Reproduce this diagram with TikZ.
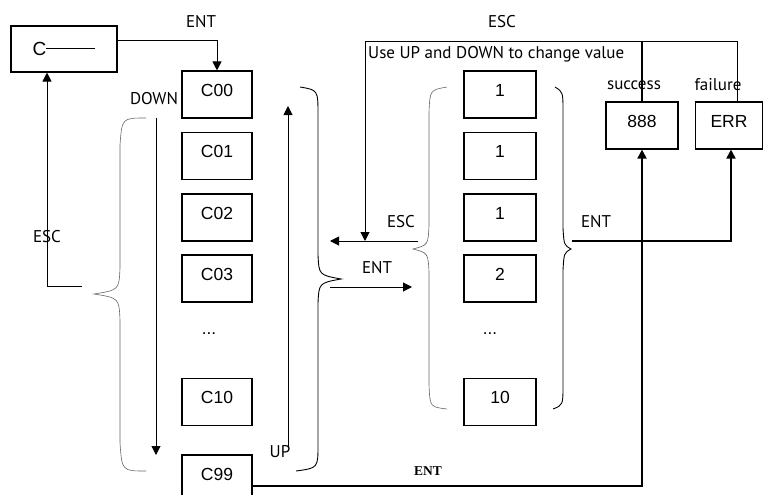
\documentclass[tikz,border=0pt]{standalone}
\usepackage{fontspec}
\setmainfont{Liberation Sans}
\newfontfamily\lblfont{PT Sans}
\newfontfamily\serfont{Liberation Serif}
\usetikzlibrary{arrows.meta}
\tikzset{
  box/.style={draw, line width=1.1pt, inner sep=0pt, minimum width=70pt, minimum height=47pt,
    font=\fontsize{17.5}{20}\selectfont, text height=12pt, text depth=9pt},
  vbox/.style={box, minimum width=72pt},
  lbl/.style={inner sep=0pt, font=\lblfont\fontsize{17}{20}\selectfont},
  dots/.style={inner sep=0pt, anchor=base, font=\fontsize{17}{20}\selectfont},
  ln/.style={line width=1pt},
  thk/.style={line width=1.8pt},
  arr/.style={-{Triangle[length=9pt,width=9pt]}},
  bracel/.style={draw=black!60, line width=0.6pt},
  bracer/.style={draw=black, line width=0.9pt}
}
\begin{document}
\begin{tikzpicture}[x=1pt,y=-1pt]
\useasboundingbox (0,0) rectangle (763,495);
% top-left box
\node[box, minimum width=106pt, minimum height=46pt, text height=12.2pt, text depth=0pt, font=\fontsize{19}{22}\selectfont] (cbox) at (64,49) {C\rule[6.5pt]{49pt}{1pt}};
% left column
\node[box] (c00) at (217,94.5) {C00};
\node[box] (c01) at (217,156) {C01};
\node[box] (c02) at (217,217.5) {C02};
\node[box] (c03) at (217,278.5) {C03};
\node[dots] (ldots) at (209,334) {...};
\node[box] (c10) at (217,402) {C10};
\node[box] (c99) at (217,478.5) {C99};
% value column
\node[vbox] (v1) at (500,94.5) {1};
\node[vbox] (v2) at (500,156) {1};
\node[vbox] (v3) at (500,217.5) {1};
\node[vbox] (v4) at (500,278.5) {2};
\node[dots] (rdots) at (490,334) {...};
\node[vbox] (v10) at (500,402) {10};
% result boxes
\node[vbox] (s888) at (642,125.5) {888};
\node[box, minimum width=67pt] (err) at (729,125.5) {ERR};
% labels
\node[lbl] (lentT) at (201,22) {ENT};
\node[lbl] (lescT) at (502,22) {ESC};
\node[lbl, anchor=west] (luse) at (368,54) {Use UP and DOWN to change value};
\node[lbl] (lsucc) at (634,85) {success};
\node[lbl] (lfail) at (718,85) {failure};
\node[lbl] (ldown) at (154,99) {DOWN};
\node[lbl] (lescL) at (47,237) {ESC};
\node[lbl] (lescM) at (401,222) {ESC};
\node[lbl] (lentM) at (377,268) {ENT};
\node[lbl] (lentR) at (596,222) {ENT};
\node[lbl] (lup) at (280,452) {UP};
\node[inner sep=0pt, font=\serfont\bfseries\fontsize{13.5}{15}\selectfont] (lentB) at (428,471) {ENT};
% coordinates
\coordinate (escL) at (82,286);
\coordinate (downS) at (156,118);
\coordinate (downE) at (156,455);
\coordinate (upS) at (288,447);
\coordinate (upE) at (288,106);
\coordinate (escTL) at (365,42);
\coordinate (escTE) at (365,241);
\coordinate (escMS) at (418,241);
\coordinate (escME) at (330,241);
\coordinate (entMS) at (330,287);
\coordinate (entME) at (412,287);
\coordinate (entRS) at (572,241);
% braces
\draw[bracel] (146,118) .. controls (122,118) .. (120,145) -- (120,268) .. controls (119,290) .. (94,294) .. controls (119,298) .. (120,320) -- (120,443) .. controls (122,471) .. (146,471);
\draw[bracer] (300,87) .. controls (318,90) .. (318,115) -- (318,255) .. controls (319,275) .. (341,279) .. controls (319,283) .. (318,303) -- (318,445) .. controls (318,468) .. (296,471);
\draw[bracel] (447,87) .. controls (430,90) .. (429,112) -- (429,226) .. controls (428,245) .. (413,249) .. controls (428,253) .. (429,272) -- (429,385) .. controls (430,407) .. (447,409);
\draw[bracer] (555,87) .. controls (563,92) .. (563,112) -- (563,228) .. controls (564,245) .. (571,249) .. controls (564,253) .. (563,270) -- (563,385) .. controls (563,405) .. (553,409);
% connectors
\draw[ln, arr] ([yshift=8pt]cbox.east) -| (c00.north);
\draw[ln, arr] (escL) -| ([xshift=-17pt]cbox.south);
\draw[ln, arr] (downS) -- (downE);
\draw[ln, arr] (upS) -- (upE);
\draw[thk] (s888.north) -- (s888.north |- escTL);
\draw[ln, arr] ([xshift=8pt]err.north) |- (escTL) -- (escTE);
\draw[ln, arr] (escMS) -- (escME);
\draw[ln, arr] (entMS) -- (entME);
\draw[thk, arr] (entRS) -| ([xshift=2pt]err.south);
\draw[thk, arr] ([yshift=-7.5pt]c99.east) -| (s888.south);
\end{tikzpicture}
\end{document}
